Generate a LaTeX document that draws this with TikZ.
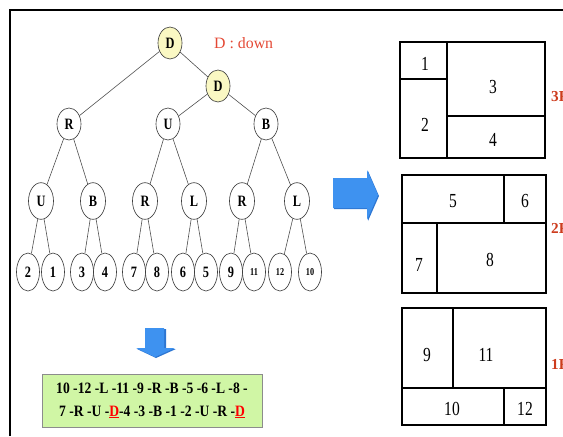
\documentclass[tikz,border=0pt]{standalone}
\usepackage{fontspec}
\setmainfont{Liberation Serif}
\newfontfamily\cserif[FakeStretch=0.78]{Liberation Serif}
\newfontfamily\sserif[FakeStretch=0.86]{Liberation Serif}
\usetikzlibrary{shapes.geometric}
\definecolor{nodeyel}{RGB}{250,248,195}
\definecolor{redlab}{RGB}{228,72,52}
\definecolor{flr}{RGB}{205,60,30}
\definecolor{arrblue}{RGB}{62,146,240}
\definecolor{arrshade}{RGB}{45,118,210}
\definecolor{boxgreen}{RGB}{208,246,165}
\begin{document}
\begin{tikzpicture}[x=0.03cm,y=-0.03cm,
  tn/.style={ellipse,draw=black!75,line width=0.55pt,inner sep=0pt,
    minimum width=0.72cm,minimum height=0.96cm,
    font=\cserif\bfseries\fontsize{13.5}{13.5}\selectfont},
  midn/.style={tn,minimum width=0.75cm,minimum height=1.1cm},
  leaf/.style={tn,minimum width=0.69cm,minimum height=1.14cm},
  small/.style={font=\cserif\bfseries\fontsize{9}{9}\selectfont},
  hl/.style={fill=nodeyel},
  edge/.style={draw=black!70,line width=0.5pt},
  frm/.style={line width=1.1pt},
  fp/.style={line width=1.3pt},
  fnum/.style={font=\cserif\fontsize{17}{17}\selectfont},
  flab/.style={anchor=west,text=flr,inner sep=0pt,font=\bfseries\fontsize{13}{13}\selectfont}
]
\useasboundingbox (0,0) rectangle (563,436);
% frame
\coordinate (fa) at (10,436);
\coordinate (fb) at (10,10);
\coordinate (fc) at (563,10);
\draw[frm] (fa) -- (fb) -- (fc);

% tree
\node[tn,hl] (d1) at (170,43) {D};
\node[tn,hl] (d2) at (218,86) {D};
\node[tn] (r) at (69,124) {R};
\node[tn] (u) at (168,124) {U};
\node[tn] (b) at (266,124) {B};
\node[midn] (a) at (41,201) {U};
\node[midn] (bb) at (93,201) {B};
\node[midn] (c) at (145,201) {R};
\node[midn] (dd) at (194,201) {L};
\node[midn] (e) at (242,201) {R};
\node[midn] (f) at (297,201) {L};
\node[leaf] (l2) at (28,272) {2};
\node[leaf] (l1) at (53,272) {1};
\node[leaf] (l3) at (82,272) {3};
\node[leaf] (l4) at (105,272) {4};
\node[leaf] (l7) at (134,272) {7};
\node[leaf] (l8) at (157,272) {8};
\node[leaf] (l6) at (183,272) {6};
\node[leaf] (l5) at (206,272) {5};
\node[leaf] (l9) at (231,272) {9};
\node[leaf,small] (l11) at (254,272) {11};
\node[leaf,small] (l12) at (280,272) {12};
\node[leaf,small] (l10) at (310,272) {10};
\path[edge] (d1) -- (r) (d1) -- (d2) (d2) -- (u) (d2) -- (b)
  (r) -- (a) (r) -- (bb) (u) -- (c) (u) -- (dd) (b) -- (e) (b) -- (f)
  (a) -- (l2) (a) -- (l1) (bb) -- (l3) (bb) -- (l4)
  (c) -- (l7) (c) -- (l8) (dd) -- (l6) (dd) -- (l5)
  (e) -- (l9) (e) -- (l11) (f) -- (l12) (f) -- (l10);
\node[text=redlab,anchor=west,inner sep=0pt,font=\fontsize{13.5}{13.5}\selectfont] (leg) at (214,43) {D : down};

% down arrow
\fill[arrshade] (146,329) -- (166,329) -- (166,349) -- (176,349) -- (156,358) -- (137,349) -- (146,349) -- cycle;
\fill[arrblue] (145,328) -- (164,328) -- (164,348) -- (175,348) -- (155,357) -- (136,348) -- (145,348) -- cycle;
% green box
\node[draw=black!45,fill=boxgreen,line width=0.6pt,minimum width=6.6cm,minimum height=1.59cm,inner sep=0pt,
  align=center,font=\sserif\bfseries\fontsize{13.5}{19.5}\selectfont] (seq) at (152,400.5)
  {10 -12 -L -11 -9 -R -B -5 -6 -L -8 -\\7 -R -U -\textcolor{red}{\underline{D}}-4 -3 -B -1 -2 -U -R -\textcolor{red}{\underline{D}}};

% right arrow
\fill[arrshade] (334,179) -- (368,179) -- (368,171) -- (379,196) -- (368,221) -- (368,209) -- (334,209) -- cycle;
\fill[arrblue] (333,178) -- (367,178) -- (367,170) -- (378,195) -- (367,220) -- (367,208) -- (333,208) -- cycle;

% floor plan 3
\coordinate (p1a) at (400,42); \coordinate (p1b) at (545,158);
\draw[fp] (p1a) rectangle (p1b);
\coordinate (p1c) at (447,42); \coordinate (p1d) at (447,158);
\draw[fp] (p1c) -- (p1d);
\coordinate (p1e) at (400,79); \coordinate (p1f) at (447,79);
\draw[fp] (p1e) -- (p1f);
\coordinate (p1g) at (447,116); \coordinate (p1h) at (545,116);
\draw[fp] (p1g) -- (p1h);
\node[fnum] (n1) at (425,64) {1};
\node[fnum] (n2) at (425,125) {2};
\node[fnum] (n3) at (493,87) {3};
\node[fnum] (n4) at (493,140) {4};
\node[flab] (f3) at (551,97) {3F};

% floor plan 2
\coordinate (p2a) at (402,175); \coordinate (p2b) at (546,293);
\draw[fp] (p2a) rectangle (p2b);
\coordinate (p2c) at (402,223); \coordinate (p2d) at (546,223);
\draw[fp] (p2c) -- (p2d);
\coordinate (p2e) at (504,175); \coordinate (p2f) at (504,223);
\draw[fp] (p2e) -- (p2f);
\coordinate (p2g) at (437,223); \coordinate (p2h) at (437,293);
\draw[fp] (p2g) -- (p2h);
\node[fnum] (n5) at (453,201) {5};
\node[fnum] (n6) at (525,201) {6};
\node[fnum] (n7) at (419,265) {7};
\node[fnum] (n8) at (490,260) {8};
\node[flab] (f2) at (551,228) {2F};

% floor plan 1
\coordinate (p3a) at (402,308); \coordinate (p3b) at (546,425);
\draw[fp] (p3a) rectangle (p3b);
\coordinate (p3c) at (453,308); \coordinate (p3d) at (453,388);
\draw[fp] (p3c) -- (p3d);
\coordinate (p3e) at (402,388); \coordinate (p3f) at (546,388);
\draw[fp] (p3e) -- (p3f);
\coordinate (p3g) at (504,388); \coordinate (p3h) at (504,425);
\draw[fp] (p3g) -- (p3h);
\node[fnum] (n9) at (427,355) {9};
\node[fnum] (n11) at (486,355) {11};
\node[fnum] (n10) at (452,409) {10};
\node[fnum] (n12) at (525,409) {12};
\node[flab] (f1) at (551,364) {1F};
\end{tikzpicture}
\end{document}
